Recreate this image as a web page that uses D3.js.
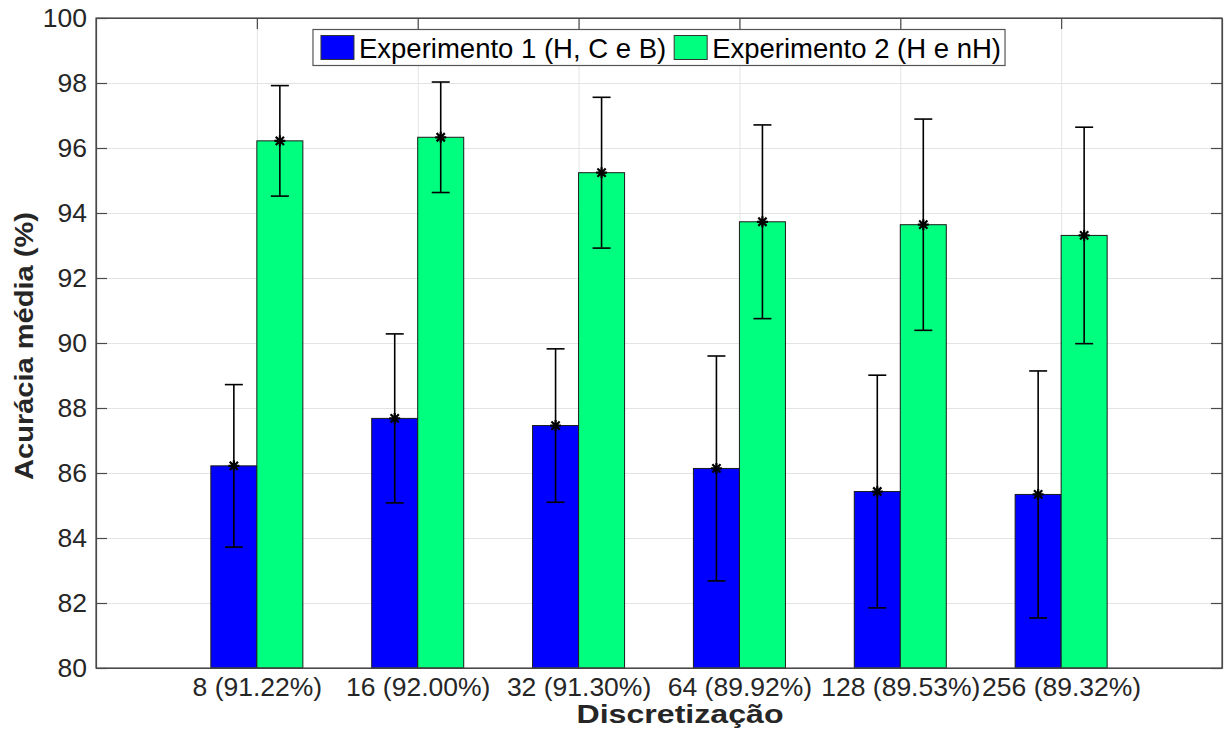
<!DOCTYPE html>
<html>
<head>
<meta charset="utf-8">
<script src="https://cdn.jsdelivr.net/npm/d3@7"></script>
<style>
  body { margin: 0; background: #fff; }
  svg { display: block; font-family: "Liberation Sans", Arial, sans-serif; }
</style>
</head>
<body>
<div id="plot"></div>
<script>
// Data
const categories = ["8 (91.22%)", "16 (92.00%)", "32 (91.30%)", "64 (89.92%)", "128 (89.53%)", "256 (89.32%)"];
const seriesNames = ["Experimento 1 (H, C e B)", "Experimento 2 (H e nH)"];
const exp1Mean = [86.22, 87.68, 87.46, 86.14, 85.43, 85.34];
const exp1Err  = [2.50, 2.60, 2.36, 3.46, 3.58, 3.80];
const exp2Mean = [96.22, 96.33, 95.24, 93.73, 93.64, 93.31];
const exp2Err  = [1.70, 1.70, 2.32, 2.98, 3.25, 3.33];
const yTicks = [80, 82, 84, 86, 88, 90, 92, 94, 96, 98, 100];
const colors = ["#0000ff", "#00ff7f"];

const width = 1224, height = 731;
const plotL = 96, plotR = 1222, plotT = 18, plotB = 668;

const svg = d3.select("#plot").append("svg")
    .attr("width", width)
    .attr("height", height);

const x = d3.scaleLinear().domain([0, categories.length + 1]).range([plotL, plotR]);
const y = d3.scaleLinear().domain([80, 100]).range([plotB, plotT]);
// offset of each series inside a group (in category units)
const sub = d3.scaleBand().domain([0, 1]).range([-0.286, 0.286]).padding(0);

const idx = categories.map((c, i) => i + 1);

// grid
svg.append("g")
    .attr("transform", `translate(${plotL},0)`)
    .call(d3.axisLeft(y).tickValues(yTicks).tickSize(-(plotR - plotL)).tickFormat(""))
    .call(g => g.select(".domain").remove())
    .call(g => g.selectAll("line").attr("stroke", "#e3e3e3").attr("stroke-width", 1));
svg.append("g")
    .attr("transform", `translate(0,${plotB})`)
    .call(d3.axisBottom(x).tickValues(idx).tickSize(-(plotB - plotT)).tickFormat(""))
    .call(g => g.select(".domain").remove())
    .call(g => g.selectAll("line").attr("stroke", "#e3e3e3").attr("stroke-width", 1));

// axes (ticks point inward)
const axisColor = "#4a4a4a", textColor = "#262626";
function styleAxis(g) {
    g.select(".domain").attr("stroke", axisColor).attr("stroke-width", 1.2);
    g.selectAll("line").attr("stroke", axisColor).attr("stroke-width", 1.2);
    g.selectAll("text").attr("fill", textColor).style("font-size", "26.5px")
        .style("font-family", "'Liberation Sans', Arial, sans-serif");
}
svg.append("g")
    .attr("transform", `translate(${plotL},0)`)
    .call(d3.axisLeft(y).tickValues(yTicks).tickSize(-11).tickPadding(9).tickSizeOuter(0))
    .call(styleAxis);
svg.append("g")
    .attr("transform", `translate(${plotR},0)`)
    .call(d3.axisRight(y).tickValues(yTicks).tickSize(-11).tickSizeOuter(0).tickFormat(""))
    .call(styleAxis);
svg.append("g")
    .attr("transform", `translate(0,${plotT})`)
    .call(d3.axisTop(x).tickValues(idx).tickSize(-11).tickSizeOuter(0).tickFormat(""))
    .call(styleAxis);
svg.append("g")
    .attr("transform", `translate(0,${plotB})`)
    .call(d3.axisBottom(x).tickValues(idx).tickSize(-11).tickPadding(9).tickSizeOuter(0)
        .tickFormat(i => categories[i - 1]))
    .call(styleAxis);

// bars
const series = [
    { name: seriesNames[0], mean: exp1Mean, err: exp1Err, color: colors[0] },
    { name: seriesNames[1], mean: exp2Mean, err: exp2Err, color: colors[1] }
];

series.forEach((s, si) => {
    const pts = s.mean.map((m, i) => ({ i: i + 1, m, e: s.err[i] }));
    const off = sub(si);
    const bw = x(sub.bandwidth()) - x(0);

    svg.append("g").selectAll("rect")
        .data(pts)
        .enter().append("rect")
        .attr("x", d => x(d.i + off))
        .attr("y", d => y(d.m))
        .attr("width", bw)
        .attr("height", d => y(80) - y(d.m))
        .attr("fill", s.color)
        .attr("stroke", "#1a1a1a")
        .attr("stroke-width", 1);

    const cx = d => x(d.i + off + sub.bandwidth() / 2);
    const eb = svg.append("g").attr("stroke", "#000").attr("stroke-width", 1.6);
    eb.selectAll(".v").data(pts).enter().append("line")
        .attr("x1", cx).attr("x2", cx)
        .attr("y1", d => y(d.m - d.e)).attr("y2", d => y(d.m + d.e));
    [-1, 1].forEach(sign => {
        eb.selectAll(".c" + sign).data(pts).enter().append("line")
            .attr("x1", d => cx(d) - 9).attr("x2", d => cx(d) + 9)
            .attr("y1", d => y(d.m + sign * d.e)).attr("y2", d => y(d.m + sign * d.e));
    });

    // asterisk markers
    const r = 5.5, rd = r * 0.75;
    const star = `M${-r},0L${r},0M0,${-r}L0,${r}M${-rd},${-rd}L${rd},${rd}M${-rd},${rd}L${rd},${-rd}`;
    svg.append("g").selectAll("path")
        .data(pts)
        .enter().append("path")
        .attr("d", star)
        .attr("transform", d => `translate(${cx(d)},${y(d.m)})`)
        .attr("stroke", "#000")
        .attr("stroke-width", 2.2)
        .attr("fill", "none");
});

// box drawn again over the data
svg.append("rect")
    .attr("x", plotL).attr("y", plotT)
    .attr("width", plotR - plotL).attr("height", plotB - plotT)
    .attr("fill", "none").attr("stroke", axisColor).attr("stroke-width", 1.2);

// legend
const legend = svg.append("g");
const box = legend.append("rect")
    .attr("fill", "#fff").attr("stroke", "#555").attr("stroke-width", 1.2);
let lx = 8;
series.forEach(s => {
    legend.append("rect")
        .attr("x", lx).attr("y", 6)
        .attr("width", 33).attr("height", 24)
        .attr("fill", s.color).attr("stroke", "#333").attr("stroke-width", 1);
    const t = legend.append("text")
        .attr("x", lx + 38).attr("y", 28)
        .attr("fill", "#000")
        .style("font-size", "27.5px")
        .text(s.name);
    lx += 38 + t.node().getComputedTextLength() + 8;
});
const boxW = lx - 4;
box.attr("x", 0).attr("y", 0).attr("width", boxW).attr("height", 36);
legend.attr("transform", `translate(${(plotL + plotR) / 2 - boxW / 2},29.5)`);

// axis titles
svg.append("text")
    .attr("x", 680).attr("y", 723)
    .attr("text-anchor", "middle")
    .attr("fill", textColor)
    .style("font-size", "25.5px").style("font-weight", "bold")
    .attr("textLength", 207).attr("lengthAdjust", "spacingAndGlyphs")
    .text("Discretização");

svg.append("text")
    .attr("transform", "translate(33,346) rotate(-90)")
    .attr("text-anchor", "middle")
    .attr("fill", textColor)
    .style("font-size", "25.5px").style("font-weight", "bold")
    .attr("textLength", 268).attr("lengthAdjust", "spacingAndGlyphs")
    .text("Acurácia média (%)");
</script>
</body>
</html>
